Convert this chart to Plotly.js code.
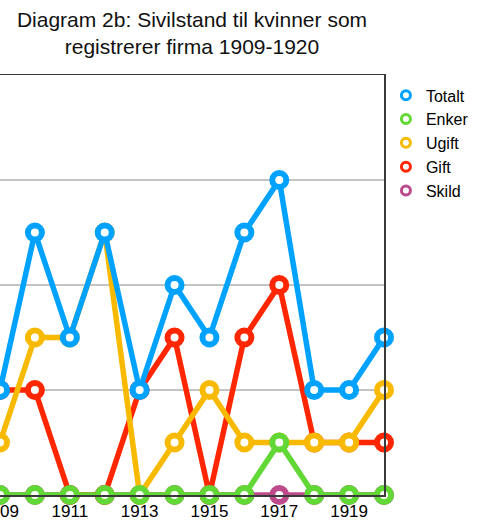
<!DOCTYPE html>
<html>
<head>
<meta charset="utf-8">
<script src="https://cdn.plot.ly/plotly-3.0.1.min.js"></script>
<style>html,body{margin:0;padding:0;background:#fff;overflow:hidden}#chart{width:477px;height:522px}</style>
</head>
<body>
<div id="chart"></div>
<script>
var years = [1909, 1910, 1911, 1912, 1913, 1914, 1915, 1916, 1917, 1918, 1919, 1920];
var totalt = [2, 5, 3, 5, 2, 4, 3, 5, 6, 2, 2, 3];
var enker  = [0, 0, 0, 0, 0, 0, 0, 0, 1, 0, 0, 0];
var ugift  = [1, 3, 3, 5, 0, 1, 2, 1, 1, 1, 1, 2];
var gift   = [2, 2, 0, 0, 2, 3, 0, 3, 4, 1, 1, 1];
var skild  = [0, 0, 0, 0, 0, 0, 0, 0, 0, 0, 0, 0];
var tickYears = [1909, 1911, 1913, 1915, 1917, 1919];
var tickLabels = ["1909", "1911", "1913", "1915", "1917", "1919"];
var names  = ["Totalt", "Enker", "Ugift", "Gift", "Skild"];
var colors = ["#00A2FF", "#61D836", "#F8BA00", "#FF2600", "#BD4B8C"];

function series(i, y) {
  return {
    x: years, y: y, name: names[i], type: 'scatter', mode: 'lines+markers',
    line: {color: colors[i], width: 5.5},
    marker: {symbol: 'circle', size: 14, color: '#ffffff', line: {color: colors[i], width: 6}},
    cliponaxis: false, showlegend: false, hoverinfo: 'skip'
  };
}
function legendItem(i) {
  return {
    x: [null], y: [null], name: names[i], type: 'scatter', mode: 'markers',
    marker: {symbol: 'circle', size: 9, color: '#ffffff', line: {color: colors[i], width: 3}},
    showlegend: true, legendrank: i + 1
  };
}
// drawing order (bottom to top): Skild, Gift, Ugift, Totalt, Enker
var data = [
  series(4, skild), series(3, gift), series(2, ugift), series(0, totalt), series(1, enker),
  legendItem(0), legendItem(1), legendItem(2), legendItem(3), legendItem(4)
];
var layout = {
  width: 477, height: 522,
  margin: {l: 0, r: 93, t: 75, b: 27},
  paper_bgcolor: '#ffffff', plot_bgcolor: '#ffffff',
  font: {family: 'Liberation Sans, Arial, Helvetica, sans-serif', color: '#000000', size: 16},
  title: {text: 'Diagram 2b: Sivilstand til kvinner som<br>registrerer firma 1909-1920',
          font: {size: 21, color: '#111111'}, xref: 'paper', x: 0.5, xanchor: 'center',
          yref: 'container', y: 0.948, yanchor: 'top'},
  xaxis: {range: [1909, 1920], tickvals: tickYears, ticktext: tickLabels, showgrid: false,
          zeroline: false, showline: true, mirror: true, linecolor: '#3a3a3a', linewidth: 1.5,
          ticks: '', tickfont: {size: 17}, ticklabeloverflow: 'allow'},
  yaxis: {range: [0, 8], dtick: 2, showgrid: true, gridcolor: '#c4c4c4', gridwidth: 1.5,
          zeroline: false, showline: true, mirror: true, linecolor: '#3a3a3a', linewidth: 1.5,
          showticklabels: false, ticks: ''},
  showlegend: true,
  legend: {x: 1.005, xanchor: 'left', y: 0.992, yanchor: 'top', font: {size: 16},
           itemwidth: 30, traceorder: 'normal', bgcolor: 'rgba(0,0,0,0)', tracegroupgap: 0}
};
Plotly.newPlot('chart', data, layout, {staticPlot: true, displayModeBar: false});
</script>
</body>
</html>
